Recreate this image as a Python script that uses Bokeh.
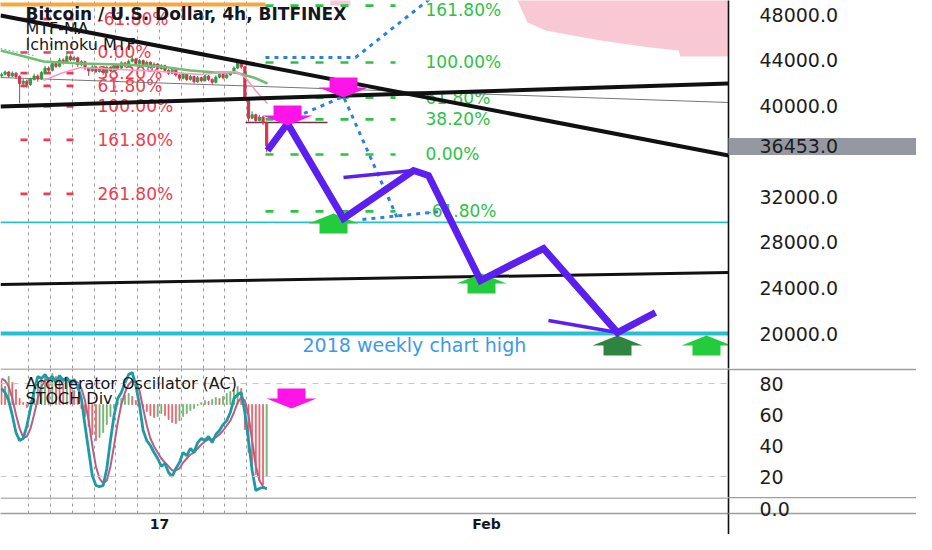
from bokeh.plotting import figure
from bokeh.layouts import column
from bokeh.models import (ColumnDataSource, FixedTicker, Grid, Label,
                          PrintfTickFormatter, Range1d, Span)
from bokeh.core.properties import value
from bokeh.embed import file_html
from bokeh.resources import INLINE

FONT = "DejaVu Sans"

# ------------------------------------------------------------------ data
# x values are days counted from 17 Jan 2022 00:00 (4h candles)
first_candle_day = -7.25
candle_open_first = 42600
candle_close = [42750, 42950, 42600, 42850, 42550, 41950, 42150, 41850, 42300, 42600,
                42350, 42900, 43300, 43100, 43700, 43450, 44000, 43800, 44300, 44050,
                44200, 43600, 43850, 43300, 43050, 43400, 43000, 43250, 42900, 43350,
                43100, 43550, 43300, 43750, 43500, 43900, 44100, 43700, 43950, 43600,
                43800, 43400, 43650, 43250, 43500, 43100, 42850, 43150, 42700, 42400,
                42750, 42300, 42550, 42100, 42450, 42200, 42600, 42300, 42050, 42500,
                42750, 42450, 42700, 42900, 43300, 43750, 43400, 40600, 38900, 39200,
                38700, 39000, 38500, 36453]
candle_high = [42900, 43100, 43050, 43000, 42950, 42700, 42350, 42300, 42450, 42800,
               42750, 43050, 43500, 43450, 43900, 43850, 44200, 44150, 44800, 44500,
               44400, 44300, 44000, 43950, 43400, 43550, 43500, 43400, 43350, 43500,
               43450, 43700, 43650, 43900, 43850, 44050, 44400, 44200, 44100, 44050,
               43950, 43900, 43800, 43750, 43650, 43600, 43200, 43300, 43250, 42800,
               42900, 42850, 42700, 42650, 42600, 42550, 42750, 42700, 42400, 42650,
               42900, 42850, 42850, 43050, 43450, 43950, 43850, 43500, 40700, 39500,
               39300, 39200, 39100, 38600]
candle_low = [42500, 42650, 42450, 42500, 42350, 40200, 41600, 41600, 41750, 42200,
              42100, 42250, 42800, 42950, 43000, 43300, 43350, 43600, 43700, 43900,
              43900, 43400, 43450, 43100, 42600, 42950, 42850, 42900, 42700, 42800,
              42950, 43000, 43150, 43200, 43350, 43400, 43800, 43550, 43600, 43450,
              43500, 43250, 43300, 43100, 43150, 42950, 42700, 42750, 42550, 42200,
              42300, 42150, 42200, 41950, 42000, 42050, 42100, 42150, 41850, 41950,
              42400, 42300, 42350, 42600, 42800, 43200, 43200, 40400, 38600, 38800,
              38500, 38600, 38300, 35900]

stoch_k = [76.8, 74.2, 69.0, 59.4, 48.4, 43.2, 44.5, 52.9, 63.9, 75.5,
           84.5, 83.2, 85.8, 81.9, 84.5, 80.6, 85.2, 81.9, 83.9, 80.0,
           82.6, 78.1, 70.3, 52.9, 36.8, 20.6, 14.2, 13.5, 14.2, 25.2,
           43.2, 59.4, 70.3, 74.2, 80.6, 85.8, 87.1, 78.7, 65.8, 49.7,
           43.2, 40.0, 35.5, 31.6, 26.5, 28.4, 22.6, 20.0, 25.2, 29.0,
           35.5, 33.5, 38.1, 35.5, 41.9, 44.5, 43.2, 45.8, 41.9, 47.1,
           49.7, 53.5, 56.1, 61.3, 70.3, 72.9, 74.2, 61.3, 43.2, 23.9,
           11.0, 12.3, 12.9, 12.3]
stoch_d = [83.2, 81.9, 78.1, 70.3, 60.0, 51.0, 45.2, 45.8, 51.0, 60.0,
           70.3, 78.1, 81.9, 83.2, 83.2, 82.6, 82.6, 82.6, 82.6, 81.9,
           81.9, 80.6, 76.8, 69.0, 56.1, 40.0, 26.5, 18.7, 15.5, 17.4,
           26.5, 40.0, 54.8, 66.5, 74.2, 79.4, 81.9, 81.3, 75.5, 63.9,
           52.9, 44.5, 39.4, 35.5, 31.6, 29.0, 26.5, 23.9, 23.9, 25.2,
           29.0, 31.6, 34.2, 35.5, 38.1, 40.6, 42.6, 43.9, 43.9, 45.2,
           47.1, 49.7, 52.9, 56.1, 61.3, 67.7, 71.0, 69.0, 59.4, 43.2,
           27.1, 17.4, 13.5, 11.6]
ac_values = [240, 180, 280, 220, 150, 60, 20, -30, 40, 120,
             200, 260, 300, 270, 310, 280, 250, 220, 260, 200,
             140, 60, -40, -120, -220, -300, -360, -330, -280, -200,
             -120, -40, 20, 60, 90, 110, 80, 40, 10, -30,
             -70, -110, -130, -120, -90, -110, -150, -180, -190, -160,
             -120, -90, -60, -40, -10, 20, 40, 30, 50, 70,
             60, 80, 110, 130, 150, 180, 160, -250, -480, -600,
             -700, -760, -800, -720]

price_ticks = [20000, 24000, 28000, 32000, 40000, 44000, 48000]
last_price = 36453
osc_ticks = [20, 40, 60, 80]
small_ticks = [0]
time_tick_days = [0, 15]
time_tick_labels = ["17", "Feb"]
grid_days = [-6, -5, -4, -3, -2, -1, 0, 1, 2, 3, 4]

mtf_ma_days = [-7.294, -6.376, -5.321, -3.624, -1.789, 0.046, 1.422, 2.569, 3.486, 4.312, 4.954]
mtf_ma_prices = [44840, 44401, 43875, 43699, 43612, 43436, 43085, 42909, 42909, 42470, 41944]
pink_ma_days = [-5.321, -4.541, -3.624, -1.789, 0.046, 1.881, 3.486, 3.945, 4.404, 4.954]
pink_ma_prices = [42207, 42821, 43348, 43172, 42997, 42734, 42997, 42470, 41329, 40188]
blue_ma_days = [-7.294, -5.780]
blue_ma_prices = [45016, 44401]
orange_days = [-7.4, 4.86]
orange_price = 48878

cloud_days = [16.42, 16.88, 17.71, 20.23, 22.52, 23.81, 23.90, 26.20]
cloud_bottom = [49229, 47298, 46596, 45718, 45103, 44840, 44313, 44313]
cloud_top = [50000, 50000, 50000, 50000, 50000, 50000, 50000, 50000]
cloud2_days = [7.84, 8.76]
cloud2_bottom = [48790, 48790]
cloud2_top = [50000, 50000]

trend_days = [-7.294, 26.101]
trend_upper = [47912, 35624]
trend_middle = [39925, 41944]
trend_lower = [24301, 25355]
thin_gray = [42470, 40276]
cyan_levels = [29750, 20000]
cyan_widths = [1.6, 4]
base_line_days = [3.945, 7.706]
base_line_price = 38521

red_fib_levels = [-0.618, 0.0, 0.382, 0.618, 1.0, 1.618, 2.618]
red_fib_labels = ["-61.80%", "0.00%", "38.20%", "61.80%", "100.00%", "161.80%", "261.80%"]
red_fib_p0, red_fib_p100 = 44665, 39925
red_fib_days = [-6.376, -3.853]
red_fib_label_day = -2.844

green_fib_levels = [-0.618, 0.0, 0.382, 0.618, 1.0, 1.618]
green_fib_labels = ["-61.80%", "0.00%", "38.20%", "61.80%", "100.00%", "161.80%"]
green_fib_p0, green_fib_p100 = 35712, 43787
green_fib_days = [4.862, 10.826]
green_fib_label_day = 12.202

blue_a_days = [4.86, 8.99, 12.89]
blue_a_prices = [44226, 44226, 50107]
blue_b_days = [5.87, 8.44, 10.96]
blue_b_prices = [38696, 40802, 29918]
blue_c_days = [9.31, 12.89]
blue_c_prices = [30006, 30708]

zigzag_days = [4.954, 5.872, 8.440, 11.651, 12.339, 14.725, 17.615, 21.009, 22.752]
zigzag_prices = [36063, 38433, 30094, 34307, 33868, 24652, 27461, 20088, 21843]
thin_zz_1_days, thin_zz_1_prices = [8.440, 11.651], [33693, 34307]
thin_zz_2_days, thin_zz_2_prices = [17.844, 21.009], [21141, 20088]

magenta_tip_days = [8.44, 5.872]
magenta_tip_prices = [40715, 38257]
green_tip_days = [7.982, 14.771, 25.092]
green_tip_prices = [30533, 25267, 19825]
dark_green_tip_days = [21.009]
dark_green_tip_prices = [19825]
osc_arrow_days = [6.055]
osc_arrow_values = [63.9]

weekly_high_text = "2018 weekly chart high"
weekly_high_day, weekly_high_price = 6.56, 18947

# ------------------------------------------------------------------ layout
PAGE_W = 916
FRAME_W = 728
RIGHT_W = PAGE_W - FRAME_W
H1, H2, H3, H3_AXIS = 368, 129, 37, 16
X0, X1 = -7.2936, 26.1009
P0, P1 = 16928, 49229
O0, O1 = 6.45, 89.7
S0, S1 = -0.45, 1.0
LABEL_GAP = 31        # px between the scale line and its labels
TIME_LINE = 22        # px the price-scale line continues below the last panel

RED = "#ef3b50"
GREEN = "#2dc245"
MAGENTA = "#ff14e8"
BLUE = "#2f7fe0"
PURPLE = "#5b1ff0"
SEP = "#9e9e9e"

xr = Range1d(X0, X1)


def make_fig(height, y_range, with_x_axis, band_len=204, band_width=1.6, band_color=SEP):
    f = figure(width=PAGE_W, height=height, x_range=xr, y_range=y_range,
               x_axis_location="below" if with_x_axis else None,
               y_axis_location="right", toolbar_location=None,
               output_backend="svg", title=None,
               min_border_left=0, min_border_right=RIGHT_W, min_border_top=0,
               min_border_bottom=H3_AXIS if with_x_axis else 0)
    f.outline_line_color = None
    f.background_fill_color = "white"
    f.border_fill_color = "white"
    for g in f.grid:
        g.visible = False
    f.add_layout(Grid(dimension=0, ticker=FixedTicker(ticks=grid_days),
                      grid_line_color="#9a9a9a", grid_line_dash="3 4",
                      grid_line_width=1))
    ya = f.yaxis[0]
    ya.axis_line_color = "#111111"
    ya.axis_line_width = 1.6
    ya.major_tick_line_color = None
    ya.major_tick_out = 0
    ya.major_tick_in = 0
    # long minor ticks are used as bands across the price-scale area
    ya.minor_tick_in = 0
    ya.minor_tick_out = band_len
    ya.minor_tick_line_width = band_width
    ya.minor_tick_line_color = band_color
    ya.major_label_standoff = LABEL_GAP - band_len
    ya.major_label_text_font = FONT
    ya.major_label_text_font_size = "19px"
    ya.major_label_text_color = "#1d1d1d"
    return f


DPX = (X1 - X0) / FRAME_W          # days per pixel
ARROW_SX = [0, 25, 14, 14, -14, -14, -25]
ARROW_SY = [0, 10, 10, 20, 20, 10, 10]


def arrow_shapes(tip_x, tip_y, direction, ypx):
    xs, ys = [], []
    for tx, ty in zip(tip_x, tip_y):
        xs.append([tx + sx * DPX for sx in ARROW_SX])
        ys.append([ty + direction * sy * ypx for sy in ARROW_SY])
    return xs, ys


# ------------------------------------------------------------------ price panel
f1 = make_fig(H1, Range1d(P0, P1), False, band_len=190, band_width=17, band_color="#9598a1")
PPX = (P1 - P0) / H1
ya1 = f1.yaxis[0]
# the last price gets its own tick label; a thick minor tick draws its grey box
ya1.ticker = FixedTicker(ticks=sorted(price_ticks + [last_price]), minor_ticks=[last_price])
ya1.formatter = PrintfTickFormatter(format="%.1f")

f1.varea(x=cloud_days, y1=cloud_bottom, y2=cloud_top, fill_color="#f8c6d3", fill_alpha=0.95)
f1.varea(x=cloud2_days, y1=cloud2_bottom, y2=cloud2_top, fill_color="#f8c6d3", fill_alpha=0.95)
f1.line(x=orange_days, y=[orange_price] * 2, line_color="#f5a742", line_width=4)

for lvl, w in zip(cyan_levels, cyan_widths):
    f1.line(x=trend_days, y=[lvl, lvl], line_color="#26c0d3", line_width=w)

n_red = len(red_fib_levels)
red_y = [red_fib_p0 + (red_fib_p100 - red_fib_p0) * r for r in red_fib_levels]
f1.segment(x0=[red_fib_days[0]] * n_red, y0=red_y, x1=[red_fib_days[1]] * n_red, y1=red_y,
           line_color=RED, line_width=2.6, line_dash="7 16")
f1.text(x=[red_fib_label_day] * n_red, y=red_y, text=red_fib_labels,
        text_font=value(FONT), text_font_size="17px", text_color=RED,
        text_baseline="middle", text_align="left")

n_green = len(green_fib_levels)
green_y = [green_fib_p0 + (green_fib_p100 - green_fib_p0) * r for r in green_fib_levels]
f1.segment(x0=[green_fib_days[0]] * n_green, y0=green_y, x1=[green_fib_days[1]] * n_green,
           y1=green_y, line_color=GREEN, line_width=2.6, line_dash="8 17")
green_label_offset = [0, 0, 0, 0, 0, 4]
f1.text(x=[green_fib_label_day] * n_green, y=green_y, text=green_fib_labels,
        y_offset=green_label_offset,
        text_font=value(FONT), text_font_size="17px", text_color=GREEN,
        text_baseline="middle", text_align="left")

f1.line(x=trend_days, y=thin_gray, line_color="#777777", line_width=1)
f1.line(x=base_line_days, y=[base_line_price] * 2, line_color="#6a3050", line_width=1.5)

# candles
n_c = len(candle_close)
candle_days = [first_candle_day + i / 6 for i in range(n_c)]
candle_open = [candle_open_first] + candle_close[:-1]
candle_color = ["#2f9e44" if c >= o else "#d6334f" for o, c in zip(candle_open, candle_close)]
csrc = ColumnDataSource(dict(x=candle_days, o=candle_open, c=candle_close,
                             h=candle_high, l=candle_low, col=candle_color))
f1.segment(x0="x", y0="l", x1="x", y1="h", line_color="col", line_width=1, source=csrc)
f1.vbar(x="x", top="o", bottom="c", width=0.1, fill_color="col", line_color="col", source=csrc)

f1.line(x=blue_ma_days, y=blue_ma_prices, line_color="#7aa7e0", line_width=1, line_dash="2 2")
f1.line(x=mtf_ma_days, y=mtf_ma_prices, line_color="#6cc070", line_width=2.5)
f1.line(x=pink_ma_days, y=pink_ma_prices, line_color="#f39bc6", line_width=1.6)

for ys_ in (trend_upper, trend_middle):
    f1.line(x=trend_days, y=ys_, line_color="#111111", line_width=4)
f1.line(x=trend_days, y=trend_lower, line_color="#111111", line_width=3)

for dd, pp in ((blue_a_days, blue_a_prices), (blue_b_days, blue_b_prices),
               (blue_c_days, blue_c_prices)):
    f1.line(x=dd, y=pp, line_color=BLUE, line_width=3, line_dash="4 5")

f1.text(x=[weekly_high_day], y=[weekly_high_price], text=[weekly_high_text],
        text_font=value(FONT), text_font_size="19px", text_color="#3d9ae8",
        text_baseline="middle", text_align="left")

gx, gy = arrow_shapes(green_tip_days, green_tip_prices, -1, PPX)
f1.patches(xs=gx, ys=gy, fill_color="#22cc3c", line_color=None)
dgx, dgy = arrow_shapes(dark_green_tip_days, dark_green_tip_prices, -1, PPX)
f1.patches(xs=dgx, ys=dgy, fill_color="#2e8540", line_color=None)

f1.line(x=zigzag_days, y=zigzag_prices, line_color=PURPLE, line_width=7, line_join="miter")
f1.line(x=thin_zz_1_days, y=thin_zz_1_prices, line_color=PURPLE, line_width=3.5)
f1.line(x=thin_zz_2_days, y=thin_zz_2_prices, line_color=PURPLE, line_width=3.5)

mx, my = arrow_shapes(magenta_tip_days, magenta_tip_prices, 1, PPX)
f1.patches(xs=mx, ys=my, fill_color=MAGENTA, line_color=None)

for txt, yy, size, bold in (("Bitcoin / U.S. Dollar, 4h, BITFINEX", H1 - 13, "17px", True),
                            ("MTF-MA", H1 - 28, "16px", False),
                            ("Ichimoku MTF", H1 - 44, "16px", False)):
    f1.add_layout(Label(x=25, y=yy, x_units="screen", y_units="screen", text=txt,
                        text_font=FONT, text_font_size=size,
                        text_font_style="bold" if bold else "normal",
                        text_color="#131722", text_baseline="middle"))

# ------------------------------------------------------------------ oscillator panel
f2 = make_fig(H2, Range1d(O0, O1), False)
OPX = (O1 - O0) / H2
# minor tick at the top edge continues the panel separator under the scale
f2.yaxis[0].ticker = FixedTicker(ticks=osc_ticks, minor_ticks=[O1 - 0.35])
f2.yaxis[0].formatter = PrintfTickFormatter(format="%d")
f2.extra_y_ranges = {"ac": Range1d(-930, 360)}

f2.add_layout(Span(location=O1 - 0.35, dimension="width", line_color=SEP, line_width=1.6))
for lvl in (80, 20):
    f2.add_layout(Span(location=lvl, dimension="width", line_color="#c8c8c8",
                       line_width=1, line_dash="6 6"))

ac_colors = ["#6fb06f" if i > 0 and v > ac_values[i - 1] else "#e2646a"
             for i, v in enumerate(ac_values)]
f2.vbar(x=candle_days, top=ac_values, bottom=0, width=0.045, fill_color=ac_colors,
        line_color=ac_colors, line_width=0.8, y_range_name="ac")
f2.line(x=candle_days, y=stoch_d, line_color="#b95d82", line_width=2)
f2.line(x=candle_days, y=stoch_k, line_color="#1e9aa6", line_width=2.8)

ox, oy = arrow_shapes(osc_arrow_days, osc_arrow_values, 1, OPX)
f2.patches(xs=ox, ys=oy, fill_color=MAGENTA, line_color=None)

for txt, yy in (("Accelerator Oscillator (AC)", H2 - 15), ("STOCH Div", H2 - 30)):
    f2.add_layout(Label(x=25, y=yy, x_units="screen", y_units="screen", text=txt,
                        text_font=FONT, text_font_size="16px", text_color="#131722",
                        text_baseline="middle"))

# ------------------------------------------------------------------ small panel + time axis
f3 = make_fig(H3, Range1d(S0, S1), True)
f3.yaxis[0].ticker = FixedTicker(ticks=small_ticks, minor_ticks=[S1 - 0.04, S0 + 0.03])
f3.yaxis[0].formatter = PrintfTickFormatter(format="%.1f")
f3.add_layout(Span(location=S1 - 0.04, dimension="width", line_color=SEP, line_width=1.6))
xa = f3.xaxis[0]
# a minor tick at the right edge carries the price-scale line down through the time scale
xa.ticker = FixedTicker(ticks=time_tick_days, minor_ticks=[X1 - 0.01])
xa.major_label_overrides = {d: t for d, t in zip(time_tick_days, time_tick_labels)}
xa.axis_line_color = SEP
xa.axis_line_width = 1.6
xa.major_tick_line_color = None
xa.major_tick_out = 0
xa.major_tick_in = 0
xa.minor_tick_in = 0
xa.minor_tick_out = TIME_LINE
xa.minor_tick_line_width = 1.6
xa.minor_tick_line_color = "#111111"
xa.major_label_standoff = 2 - TIME_LINE
xa.major_label_text_font = FONT
xa.major_label_text_font_size = "14px"
xa.major_label_text_font_style = "bold"
xa.major_label_text_color = "#131722"

layout = column(f1, f2, f3, spacing=0)
open("out.html", "w").write(file_html(layout, INLINE))
